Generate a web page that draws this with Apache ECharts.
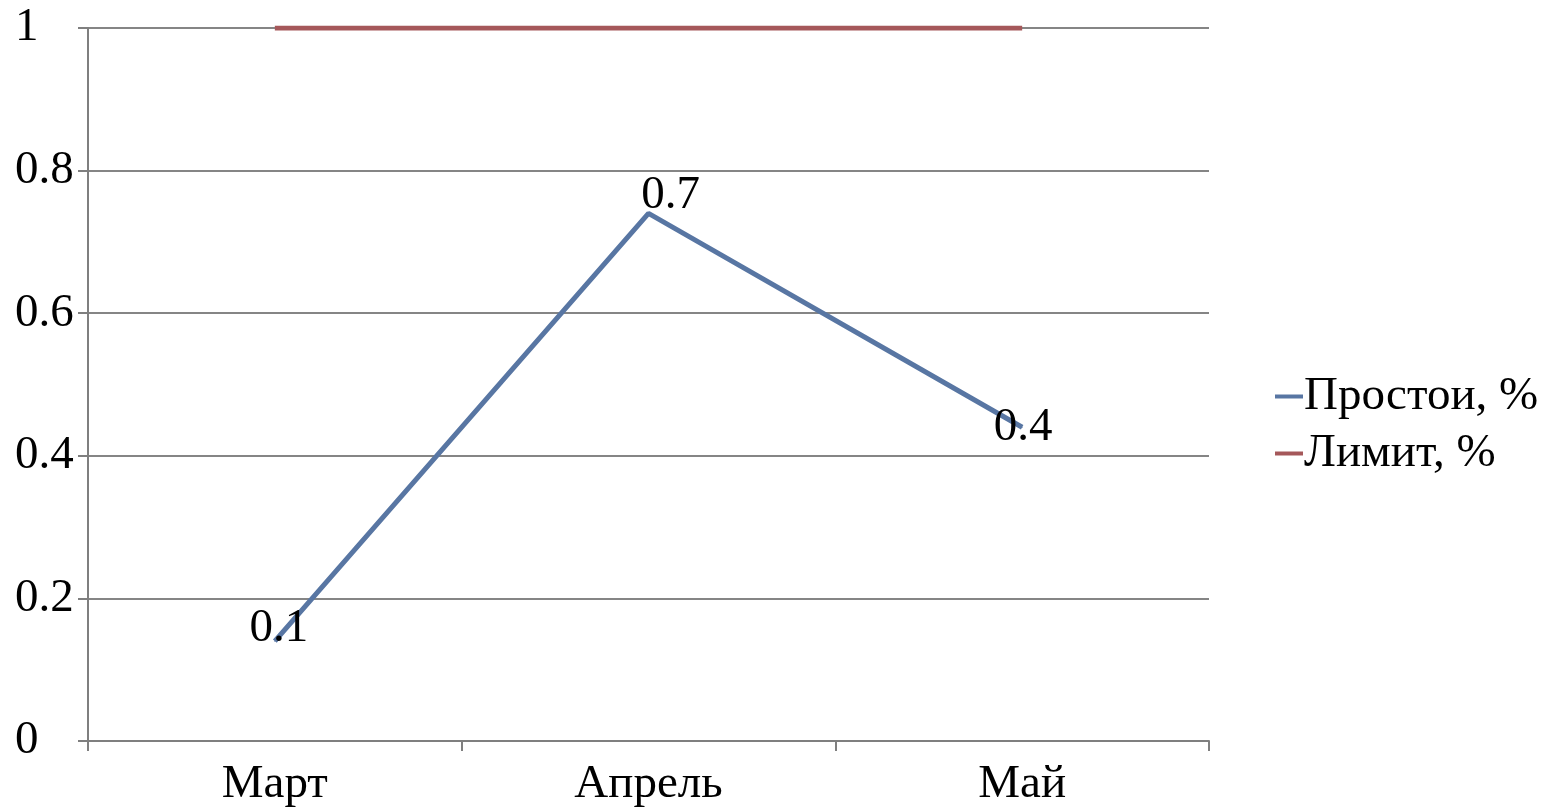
<!DOCTYPE html>
<html>
<head>
<meta charset="utf-8">
<script src="https://cdn.jsdelivr.net/npm/echarts@6/dist/echarts.min.js"></script>
<style>
html,body{margin:0;padding:0;background:#fff;}
#chart{width:1549px;height:808px;}
</style>
</head>
<body>
<div id="chart"></div>
<script>
var categories = ['Март', 'Апрель', 'Май'];
var downtime = [0.14, 0.74, 0.44];
var limit = [1, 1, 1];
var seriesNames = ['Простои, %', 'Лимит, %'];
var yTicks = [0, 0.2, 0.4, 0.6, 0.8, 1];

var FONT = 'Liberation Serif';
var FS = 47;
var labelOffsets = [[4, -13], [22, -18], [1, 0]];

var chart = echarts.init(document.getElementById('chart'));
chart.setOption({
  backgroundColor: '#ffffff',
  animation: false,
  textStyle: { fontFamily: FONT, color: '#000' },
  grid: { left: 88, right: 340, top: 28, bottom: 66, containLabel: false },
  legend: {
    orient: 'vertical',
    left: 1270,
    top: 368,
    icon: 'rect',
    itemWidth: 28,
    itemHeight: 4,
    itemGap: 10,
    textStyle: { fontFamily: FONT, fontSize: FS, color: '#000', padding: [0, 0, 0, -4] },
    data: seriesNames
  },
  xAxis: {
    type: 'category',
    data: categories,
    boundaryGap: true,
    axisLine: { lineStyle: { color: '#7f7f7f', width: 2 } },
    axisTick: { show: true, alignWithLabel: false, length: 10, lineStyle: { color: '#7f7f7f', width: 2 } },
    axisLabel: { fontFamily: FONT, fontSize: FS, color: '#000', margin: 20 },
    splitLine: { show: false }
  },
  yAxis: {
    type: 'value',
    min: yTicks[0],
    max: yTicks[yTicks.length - 1],
    interval: yTicks[1] - yTicks[0],
    axisLine: { show: true, lineStyle: { color: '#7f7f7f', width: 2 } },
    axisTick: { show: true, length: 10, lineStyle: { color: '#7f7f7f', width: 2 } },
    axisLabel: { fontFamily: FONT, fontSize: FS, color: '#000', margin: 73, align: 'left' },
    splitLine: { show: true, lineStyle: { color: '#858585', width: 2 } }
  },
  series: [
    {
      name: seriesNames[0],
      type: 'line',
      data: downtime.map(function (v, i) {
        return { value: v, label: { offset: labelOffsets[i] } };
      }),
      showSymbol: true,
      symbol: 'circle',
      symbolSize: 1,
      lineStyle: { color: '#5876a3', width: 5 },
      itemStyle: { color: '#5876a3' },
      label: {
        show: true,
        position: 'inside',
        fontFamily: FONT,
        fontSize: FS,
        color: '#000',
        formatter: function (p) { return p.value.toFixed(1); }
      },
      z: 3
    },
    {
      name: seriesNames[1],
      type: 'line',
      data: limit,
      showSymbol: false,
      symbol: 'none',
      lineStyle: { color: '#a5585a', width: 5 },
      itemStyle: { color: '#a5585a' },
      z: 2
    }
  ]
});
</script>
</body>
</html>
